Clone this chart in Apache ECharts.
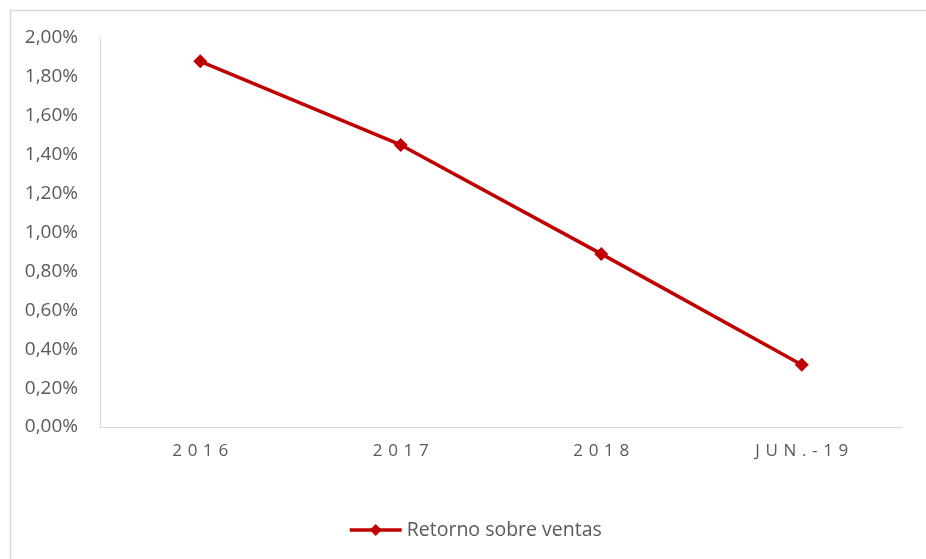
<!DOCTYPE html>
<html>
<head>
<meta charset="utf-8">
<script src="https://cdn.jsdelivr.net/npm/echarts@6/dist/echarts.min.js"></script>
<style>
  html, body { margin: 0; padding: 0; background: #ffffff; }
  #chart { width: 926px; height: 559px; }
</style>
</head>
<body>
<div id="chart"></div>
<script>
// Return on sales by period (percent)
const categories = ['2016', '2017', '2018', 'JUN.-19'];
const retornoSobreVentas = [1.88, 1.45, 0.89, 0.32];
const seriesName = 'Retorno sobre ventas';
const yMin = 0, yMax = 2, yStep = 0.2;

const FONT = '"Open Sans", "Noto Sans", sans-serif';
const RED = '#C00000';
const TEXT = '#595959';
const AXIS = '#D9D9D9';

const chart = echarts.init(document.getElementById('chart'), null, { renderer: 'canvas' });

chart.setOption({
  animation: false,
  backgroundColor: '#ffffff',
  graphic: [{
    type: 'rect',
    shape: { x: 10.5, y: 10.5, width: 940, height: 580 },
    style: { fill: 'none', stroke: '#D9D9D9', lineWidth: 1.5 },
    silent: true
  }],
  grid: { left: 100, right: 24, top: 38, bottom: 132 },
  legend: {
    top: 515,
    left: 343,
    itemWidth: 52,
    itemHeight: 15,
    textStyle: { fontFamily: FONT, fontSize: 19.5, color: TEXT },
    lineStyle: { width: 3.5, color: RED },
    data: [seriesName]
  },
  xAxis: {
    type: 'category',
    data: categories,
    boundaryGap: true,
    axisLine: { lineStyle: { color: AXIS, width: 1 } },
    axisTick: { show: false },
    axisLabel: {
      margin: 16,
      fontFamily: FONT,
      fontSize: 17,
      color: TEXT,
      formatter: v => v.split('').join('\u2004')
    }
  },
  yAxis: {
    type: 'value',
    min: yMin,
    max: yMax,
    interval: yStep,
    axisLine: { show: true, lineStyle: { color: AXIS, width: 1 } },
    axisTick: { show: false },
    splitLine: { show: false },
    axisLabel: {
      margin: 22,
      fontFamily: FONT,
      fontSize: 19,
      color: TEXT,
      formatter: v => v.toFixed(2).replace('.', ',') + '%'
    }
  },
  series: [{
    name: seriesName,
    type: 'line',
    data: retornoSobreVentas,
    symbol: 'diamond',
    symbolSize: 14,
    lineStyle: { color: RED, width: 3.5 },
    itemStyle: { color: RED }
  }]
});
</script>
</body>
</html>
